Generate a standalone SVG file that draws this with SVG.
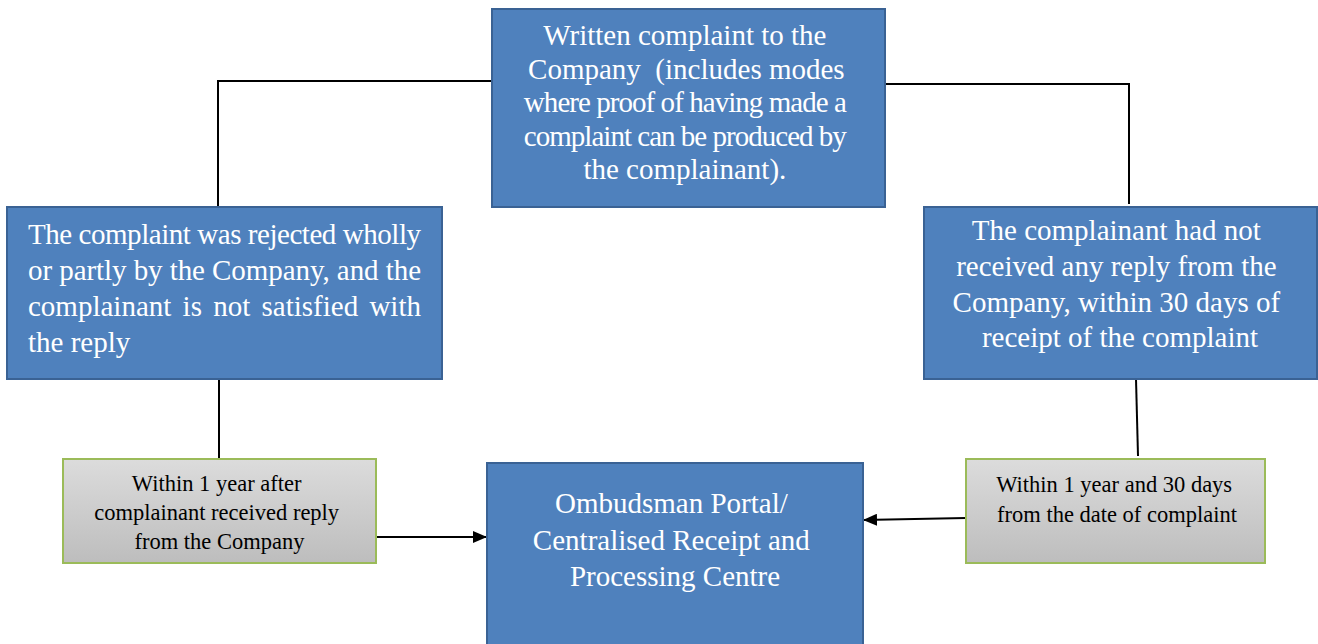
<svg xmlns="http://www.w3.org/2000/svg" width="1318" height="644" viewBox="0 0 1318 644">
<defs>
<linearGradient id="grey" x1="0" y1="0" x2="0" y2="1">
<stop offset="0" stop-color="#dcdcdc"/>
<stop offset="1" stop-color="#bdbdbd"/>
</linearGradient>
<marker id="ah" viewBox="0 0 14 12" refX="14" refY="6" markerWidth="14" markerHeight="12" markerUnits="userSpaceOnUse" orient="auto">
<path d="M0,0 L14,6 L0,12 z" fill="#000"/>
</marker>
</defs>
<style>
.blue{fill:#4f81bd;stroke:#3a6294;stroke-width:2}
.green{fill:url(#grey);stroke:#9bbb59;stroke-width:2}
.wt{fill:#ffffff;font-family:"Liberation Serif","Times New Roman",serif;font-size:29px}
.bt{fill:#000000;font-family:"Liberation Serif","Times New Roman",serif;font-size:22.5px}
.ln{stroke:#000;stroke-width:2;fill:none}
</style>
<rect width="1318" height="644" fill="#ffffff"/>
<g id="connectors">
<path class="ln" d="M492,81 H218 V207"/>
<path class="ln" d="M885,84 H1129 V204"/>
<path class="ln" d="M219,379 V459"/>
<path class="ln" d="M1136,379 L1138,456"/>
<path class="ln" d="M376,537 H487" marker-end="url(#ah)"/>
<path class="ln" d="M966,518 L863,520" marker-end="url(#ah)"/>
</g>
<g id="node-written">
<rect class="blue" x="492" y="9" width="393" height="198"/>
<text class="wt" font-size="27.5" text-anchor="middle" xml:space="preserve">
<tspan x="688.5" y="45">Written complaint to the</tspan>
<tspan x="690" y="79">Company  (includes modes</tspan>
<tspan x="688.5" y="112" textLength="323" lengthAdjust="spacing">where proof of having made a</tspan>
<tspan x="688.5" y="146" textLength="323" lengthAdjust="spacing">complaint can be produced by</tspan>
<tspan x="688.5" y="179">the complainant).</tspan>
</text>
</g>
<g id="node-rejected">
<rect class="blue" x="7" y="207" width="435" height="172"/>
<text class="wt" font-size="28">
<tspan x="28" y="244" textLength="393" lengthAdjust="spacing">The complaint was rejected wholly</tspan>
<tspan x="28" y="280" textLength="393" lengthAdjust="spacing">or partly by the Company, and the</tspan>
<tspan x="28" y="316" word-spacing="4">complainant is not satisfied with</tspan>
<tspan x="28" y="352">the reply</tspan>
</text>
</g>
<g id="node-noreply">
<rect class="blue" x="924" y="207" width="393" height="172"/>
<text class="wt" text-anchor="middle">
<tspan x="1120" y="240">The complainant had not</tspan>
<tspan x="1120" y="276">received any reply from the</tspan>
<tspan x="1120" y="312">Company, within 30 days of</tspan>
<tspan x="1120" y="347">receipt of the complaint</tspan>
</text>
</g>
<g id="node-within1">
<rect class="green" x="63" y="459" width="313" height="104"/>
<text class="bt" text-anchor="middle">
<tspan x="219.5" y="491">Within 1 year after</tspan>
<tspan x="219.5" y="520">complainant received reply</tspan>
<tspan x="219.5" y="549">from the Company</tspan>
</text>
</g>
<g id="node-within30">
<rect class="green" x="966" y="459" width="299" height="104"/>
<text class="bt" text-anchor="middle">
<tspan x="1117" y="492">Within 1 year and 30 days</tspan>
<tspan x="1117" y="522">from the date of complaint</tspan>
</text>
</g>
<g id="node-ombudsman">
<rect class="blue" x="487" y="463" width="376" height="190"/>
<text class="wt" font-size="28" text-anchor="middle">
<tspan x="675" y="513">Ombudsman Portal/</tspan>
<tspan x="675" y="550">Centralised Receipt and</tspan>
<tspan x="675" y="586">Processing Centre</tspan>
</text>
</g>
</svg>
